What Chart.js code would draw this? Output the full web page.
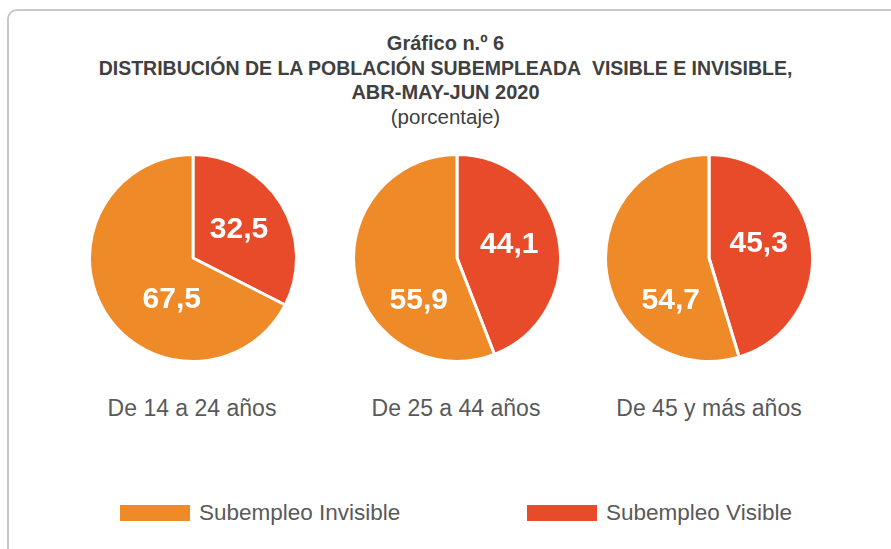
<!DOCTYPE html>
<html><head><meta charset="utf-8">
<script src="https://cdn.jsdelivr.net/npm/chart.js@4"></script>
<style>
html,body{margin:0;padding:0;background:#fff;width:891px;height:549px;overflow:hidden;}
body{position:relative;font-family:"Liberation Sans",Arial,sans-serif;}
#frame{position:absolute;left:7px;top:9px;width:900px;height:600px;border:2px solid #c9c9c9;border-radius:10px;box-sizing:border-box;}
.t{position:absolute;left:0;width:891px;text-align:center;color:#404040;white-space:nowrap;line-height:1.15;}
.b{font-weight:bold;font-size:20px;}
.pie{position:absolute;width:210px;height:210px;}
.cat{position:absolute;width:260px;text-align:center;font-size:23px;line-height:1.15;color:#595959;top:395px;white-space:nowrap;}
.lg{position:absolute;top:505px;width:70px;height:16px;}
.lt{position:absolute;top:500px;font-size:22.5px;line-height:1.15;color:#595959;white-space:nowrap;}
</style></head><body>
<div id="frame"></div>
<div class="t b" style="top:31.5px">Gráfico n.º 6</div>
<div class="t b" style="top:56.5px;font-size:19.5px">DISTRIBUCIÓN DE LA POBLACIÓN SUBEMPLEADA&nbsp; VISIBLE E INVISIBLE,</div>
<div class="t b" style="top:80.5px">ABR-MAY-JUN 2020</div>
<div class="t" style="top:105px;font-size:20.5px">(porcentaje)</div>
<canvas id="p0" class="pie" style="left:88px;top:153px"></canvas>
<canvas id="p1" class="pie" style="left:352px;top:153px"></canvas>
<canvas id="p2" class="pie" style="left:604px;top:153px"></canvas>
<div id="c0" class="cat" style="left:62px"></div>
<div id="c1" class="cat" style="left:326px"></div>
<div id="c2" class="cat" style="left:579px"></div>
<div class="lg" id="lg0" style="left:120px"></div><div class="lt" id="lt0" style="left:199px"></div>
<div class="lg" id="lg1" style="left:527px"></div><div class="lt" id="lt1" style="left:606px"></div>
<script>
const categories = ["De 14 a 24 años", "De 25 a 44 años", "De 45 y más años"];
const seriesNames = ["Subempleo Visible", "Subempleo Invisible"];
const visible = [32.5, 44.1, 45.3];
const invisible = [67.5, 55.9, 54.7];

const colors = ["#E84B2A", "#EF8A29"];
// label placement per pie (fraction of radius: dx, dy) for [visible, invisible]
const labelPos = [
  [[0.445, -0.28], [-0.205, 0.39]],
  [[0.505, -0.14], [-0.37, 0.40]],
  [[0.48, -0.15], [-0.37, 0.40]]
];

const valueLabels = {
  id: 'valueLabels',
  afterDatasetsDraw(chart, args, opts) {
    const ctx = chart.ctx;
    const meta = chart.getDatasetMeta(0);
    const ds = chart.data.datasets[0];
    ctx.save();
    ctx.fillStyle = '#fff';
    ctx.font = 'bold 30px "Liberation Sans", Arial, sans-serif';
    ctx.textAlign = 'center';
    ctx.textBaseline = 'middle';
    meta.data.forEach((arc, i) => {
      const p = opts.pos[i];
      const r = arc.outerRadius;
      const txt = ds.data[i].toFixed(1).replace('.', ',');
      ctx.fillText(txt, arc.x + p[0] * r, arc.y + p[1] * r + 1);
    });
    ctx.restore();
  }
};

for (let k = 0; k < 3; k++) {
  new Chart(document.getElementById('p' + k), {
    type: 'pie',
    data: {
      labels: seriesNames,
      datasets: [{
        data: [visible[k], invisible[k]],
        backgroundColor: colors,
        borderColor: '#ffffff',
        borderWidth: 3,
        hoverOffset: 0
      }]
    },
    options: {
      responsive: false,
      animation: false,
      events: [],
      layout: { padding: 0 },
      plugins: {
        legend: { display: false },
        tooltip: { enabled: false },
        valueLabels: { pos: labelPos[k] }
      }
    },
    plugins: [valueLabels]
  });
  document.getElementById('c' + k).textContent = categories[k];
}
document.getElementById('lg0').style.background = colors[1];
document.getElementById('lt0').textContent = seriesNames[1];
document.getElementById('lg1').style.background = colors[0];
document.getElementById('lt1').textContent = seriesNames[0];
</script>
</body></html>
